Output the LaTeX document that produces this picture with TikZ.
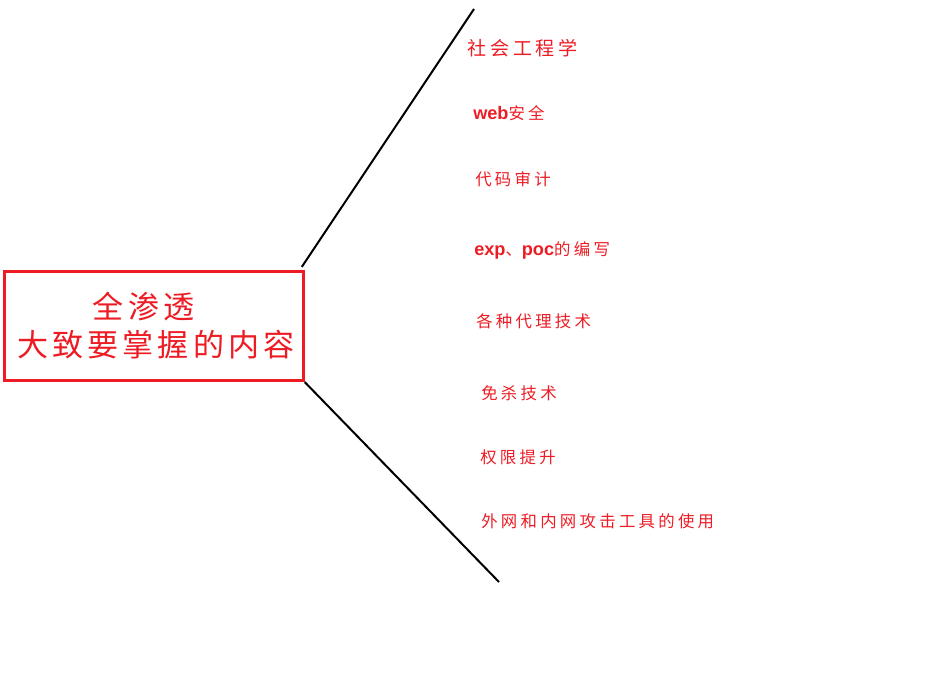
\documentclass[tikz,border=0pt]{standalone}
\usepackage{fontspec}
\setmainfont{Noto Sans CJK SC}
\newfontfamily\cjkwide[LetterSpace=20]{Noto Sans CJK SC}
\newfontfamily\cjkbox[LetterSpace=13]{Noto Sans CJK SC}
\newfontfamily\latinfont{Liberation Sans}
\newcommand{\lat}[1]{{\latinfont\bfseries\fontsize{13.6}{14}\selectfont #1}}
\definecolor{mapred}{HTML}{ED1C24}

\begin{document}
\begin{tikzpicture}[x=0.75pt, y=-0.75pt,
	core/.style={draw=mapred, line width=2.2pt, minimum width=224pt, minimum height=82pt, inner sep=0pt},
	item/.style={anchor=west, inner sep=0pt, text=mapred, font=\cjkwide\fontsize{12.3}{14}\selectfont},
	branch/.style={line width=1.5pt, black}]
		\useasboundingbox (0,0) rectangle (928,693);
		% central topic
		\node[core] (core) at (154,326) {};
		\node[text=mapred, align=center, font=\cjkbox\fontsize{23.3}{28.5}\selectfont] (title) at (156,326) {全渗透\hspace*{0.8em}\\大致要掌握的内容};
		% branches
		\coordinate (top end) at (474,9);
		\coordinate (bottom end) at (499,582);
		\draw[branch] ([shift={(-3,-3)}]core.north east) -- (top end);
		\draw[branch] (core.south east) -- (bottom end);
		% items
		\node[item, font=\cjkwide\fontsize{14.3}{16}\selectfont] (item0) at (467,48) {社会工程学};
		\foreach \i/\x/\y/\t in {1/473/113/{\lat{web}安全}, 2/475/179/代码审计, 3/474/250/{\lat{exp}、\lat{poc}的编写},
		  4/476/321/各种代理技术, 5/481/393/免杀技术, 6/480/457/权限提升, 7/481/521/外网和内网攻击工具的使用}{
		  \node[item] (item\i) at (\x,\y) {\t};
		}
	\end{tikzpicture}
\end{document}
